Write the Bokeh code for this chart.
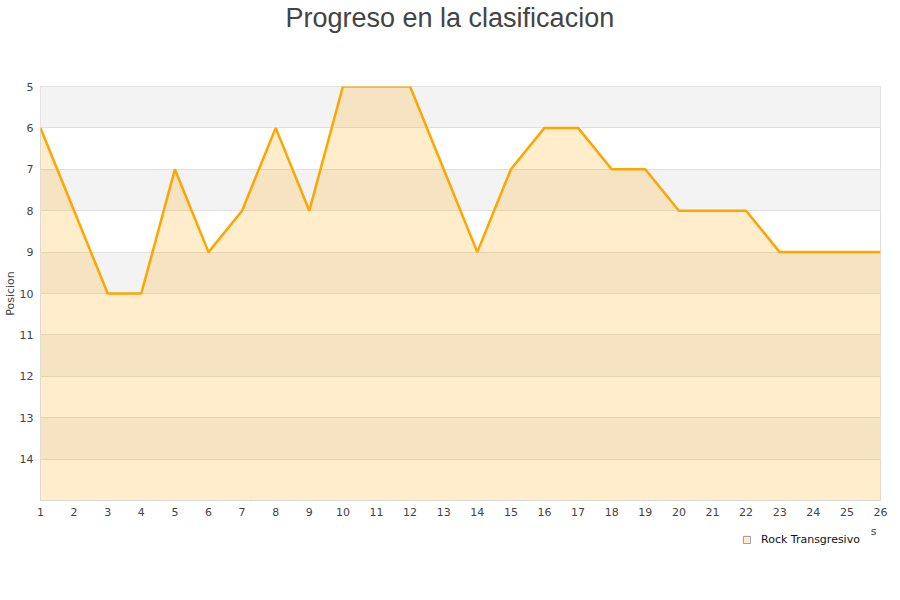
from bokeh.plotting import figure
from bokeh.layouts import column
from bokeh.models import Range1d, FixedTicker, Legend, LegendItem, Title, Label
from bokeh.embed import file_html
from bokeh.resources import INLINE

jornadas = list(range(1, 27))
posiciones = [6, 8, 10, 10, 7, 9, 8, 6, 8, 5, 5, 5, 7, 9, 7, 6, 6, 7, 7, 8, 8, 8, 9, 9, 9, 9]
y_ticks = list(range(5, 15))
x_ticks = list(range(1, 27))
serie = "Rock Transgresivo"
titulo = "Progreso en la clasificacion"
eje_y = "Posicion"
eje_x = "s"
peor = 15
mejor = 5

p = figure(width=900, height=525, output_backend="svg", toolbar_location=None,
           x_range=Range1d(jornadas[0], jornadas[-1]), y_range=Range1d(peor, mejor),
           min_border_left=40, min_border_right=20, min_border_top=86, min_border_bottom=25)
p.title = None
p.add_layout(Title(text=" ", text_font_size="36px", standoff=11), "above")
p.add_layout(Title(text=titulo, align="left", offset=245, text_font="Liberation Sans",
                   text_font_size="27px", text_font_style="normal",
                   text_color="#444444", standoff=0), "above")

p.outline_line_color = "#dddddd"
p.outline_line_width = 1

p.xgrid.visible = False
p.ygrid.ticker = FixedTicker(ticks=[y_ticks[0]] + y_ticks + [peor])
p.ygrid.grid_line_color = "#e0e0e0"
p.ygrid.band_fill_color = "#f3f3f3"
p.ygrid.band_fill_alpha = 1.0

p.varea(x=jornadas, y1=posiciones, y2=peor, fill_color="orange", fill_alpha=0.2)
p.line(jornadas, posiciones, line_color="orange", line_width=2.5)

for ax in (p.xaxis[0], p.yaxis[0]):
    ax.axis_line_color = None
    ax.major_tick_line_color = None
    ax.minor_tick_line_color = None
    ax.major_tick_out = 0
    ax.major_tick_in = 0
    ax.major_label_text_font = "DejaVu Sans"
    ax.major_label_text_font_size = "11px"
    ax.major_label_text_color = "#444444"

p.xaxis.ticker = FixedTicker(ticks=x_ticks)
p.xaxis.major_label_standoff = 7
p.yaxis.ticker = FixedTicker(ticks=y_ticks)
p.yaxis.major_label_standoff = 7
p.yaxis.axis_label = eje_y
p.yaxis.axis_label_text_font = "DejaVu Sans"
p.yaxis.axis_label_text_font_size = "11px"
p.yaxis.axis_label_text_font_style = "normal"
p.yaxis.axis_label_text_color = "#444444"
p.yaxis.axis_label_standoff = 0

# strip below the chart that holds the legend (its frame is aligned with the chart's frame)
q = figure(width=900, height=75, output_backend="svg", toolbar_location=None,
           x_range=Range1d(-1, 0), y_range=Range1d(-1, 0),
           min_border_left=0, min_border_right=0, min_border_top=0, min_border_bottom=0)
q.axis.visible = False
q.grid.visible = False
q.outline_line_color = None
# swatch renderer: the series' extent, which lies outside this strip's view
sq = q.quad(left=[jornadas[0]], right=[jornadas[-1]], top=[peor], bottom=[mejor],
            fill_color="#ffeccc", line_color="#999999", line_width=1)
legend = Legend(items=[LegendItem(label=serie, renderers=[sq])], location=(702, 54),
                padding=0, margin=0, border_line_color=None, background_fill_alpha=0,
                glyph_width=9, glyph_height=9, label_height=13, label_standoff=10,
                label_text_font="DejaVu Sans", label_text_font_size="11px",
                label_text_color="#111111")
q.add_layout(legend, "center")
q.add_layout(Label(x=833, y=69, x_units="screen", y_units="screen", text=eje_x,
                   text_font="DejaVu Sans", text_font_size="11px", text_color="#444444",
                   text_baseline="middle", text_align="center"))

layout = column(p, q, spacing=0)
open("out.html", "w").write(file_html(layout, INLINE))
